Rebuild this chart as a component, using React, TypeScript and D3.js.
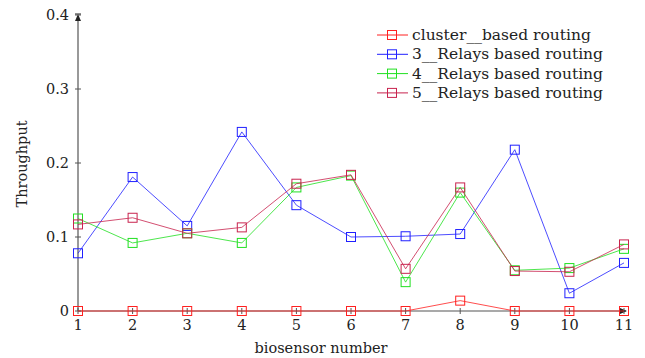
import React from "react";
import * as d3 from "d3";

const xValues = [1, 2, 3, 4, 5, 6, 7, 8, 9, 10, 11];
const clusterBased = [0, 0, 0, 0, 0, 0, 0, 0.014, 0, 0, 0];
const relays3 = [0.078, 0.181, 0.115, 0.242, 0.143, 0.1, 0.101, 0.104, 0.218, 0.024, 0.065];
const relays4 = [0.125, 0.092, 0.105, 0.092, 0.167, 0.183, 0.039, 0.16, 0.055, 0.058, 0.084];
const relays5 = [0.117, 0.126, 0.105, 0.113, 0.172, 0.184, 0.057, 0.167, 0.054, 0.053, 0.09];
const yTicks = [0, 0.1, 0.2, 0.3, 0.4];
const seriesNames = [
  "cluster__based routing",
  "3__Relays based routing",
  "4__Relays based routing",
  "5__Relays based routing",
];
const seriesColors = ["#ff2020", "#2020ff", "#20e020", "#c8234e"];
const seriesData = [clusterBased, relays3, relays4, relays5];

const W = 645;
const H = 358;
const FONT = "'DejaVu Serif', serif";

export default function App() {
  const x = d3.scaleLinear().domain([1, 11]).range([78, 624]);
  const y = d3.scaleLinear().domain([0, 0.4]).range([311, 15]);
  const line = d3
    .line<number>()
    .x((_, i) => x(xValues[i]))
    .y((d) => y(d));
  const axisColor = "#555";
  const ms = 9;

  return (
    <svg width={W} height={H} style={{ position: "absolute", left: 0, top: 0 }}>
      <rect width={W} height={H} fill="#fff" />
      {/* axes */}
      <line x1={x(1)} x2={x(11) + 2} y1={y(0)} y2={y(0)} stroke={axisColor} strokeWidth={1.2} />
      <line x1={x(1)} x2={x(1)} y1={y(0)} y2={y(0.4) + 1} stroke={axisColor} strokeWidth={1.2} />
      <path d={`M${x(1)},${y(0.4) - 1} l-3,7 l6,0 z`} fill="#222" />
      <line x1={x(1) - 3} x2={x(1) + 3} y1={y(0.4) - 1} y2={y(0.4) - 1} stroke="#222" strokeWidth={1} />
      <path d={`M${x(11) + 3},${y(0)} l-7,-3 l0,6 z`} fill="#222" />
      {yTicks.map((t) => (
        <g key={t}>
          <line x1={x(1) - 3} x2={x(1) + 3} y1={y(t)} y2={y(t)} stroke={axisColor} strokeWidth={1} />
          <text x={x(1) - 9} y={y(t) + 5} textAnchor="end" fontFamily={FONT} fontSize={14.5} fill="#222">
            {t === 0 ? "0" : d3.format(".1f")(t)}
          </text>
        </g>
      ))}
      {xValues.map((v) => (
        <g key={v}>
          <line x1={x(v)} x2={x(v)} y1={y(0) - 3} y2={y(0) + 3} stroke={axisColor} strokeWidth={1} />
          <text x={x(v)} y={y(0) + 19} textAnchor="middle" fontFamily={FONT} fontSize={14.5} fill="#222">
            {v}
          </text>
        </g>
      ))}
      <text x={321} y={353} textAnchor="middle" fontFamily={FONT} fontSize={14.5} fill="#222">
        biosensor number
      </text>
      <text
        transform={`translate(27,${164}) rotate(-90)`}
        textAnchor="middle"
        fontFamily={FONT}
        fontSize={14.5}
        fill="#222"
      >
        Throughput
      </text>
      {/* series */}
      {seriesData.map((data, si) => (
        <g key={si}>
          <path d={line(data) || ""} fill="none" stroke={seriesColors[si]} strokeWidth={1} strokeOpacity={0.8} />
          {data.map((d, i) => (
            <rect
              key={i}
              x={x(xValues[i]) - ms / 2}
              y={y(d) - ms / 2}
              width={ms}
              height={ms}
              fill="none"
              stroke={seriesColors[si]}
              strokeWidth={1}
            />
          ))}
        </g>
      ))}
      {/* legend */}
      {seriesNames.map((name, i) => {
        const ly = 35 + i * 19.3;
        return (
          <g key={name}>
            <line x1={377} x2={408} y1={ly} y2={ly} stroke={seriesColors[i]} strokeWidth={1} />
            <rect x={392 - ms / 2} y={ly - ms / 2} width={ms} height={ms} fill="none" stroke={seriesColors[i]} strokeWidth={1} />
            <text x={412} y={ly + 5} fontFamily={FONT} fontSize={15.5} fill="#222">
              {name}
            </text>
          </g>
        );
      })}
    </svg>
  );
}
